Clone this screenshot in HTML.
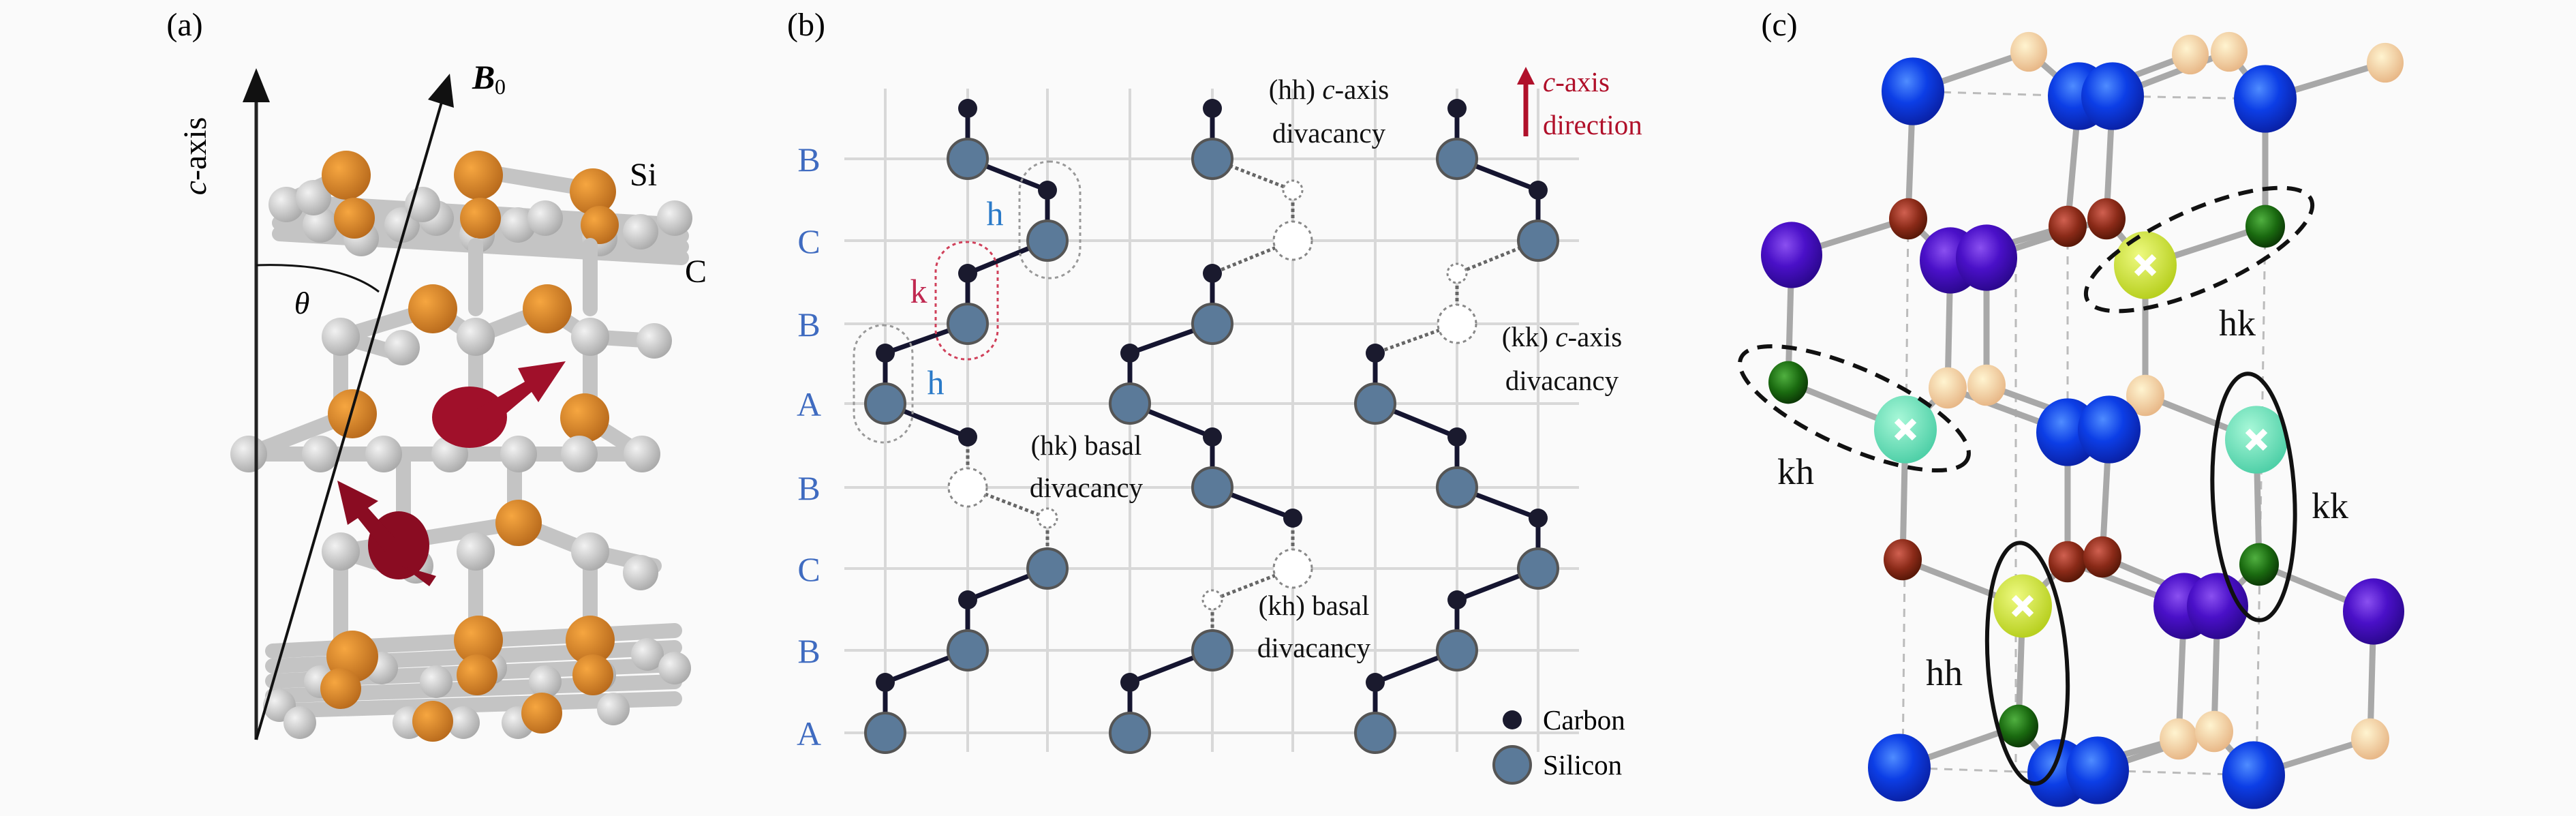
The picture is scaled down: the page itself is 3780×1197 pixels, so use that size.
<!DOCTYPE html>
<html><head><meta charset="utf-8"><style>
html,body{margin:0;padding:0;background:#fafafa;}
svg{display:block;}
text{font-family:"Liberation Serif",serif;}
</style></head><body>
<svg id="s" width="3780" height="1197" viewBox="0 0 3780 1197" xmlns="http://www.w3.org/2000/svg">
<defs>
<radialGradient id="gGray" cx="35%" cy="35%" r="70%"><stop offset="0" stop-color="#f2f2f2"/><stop offset="1" stop-color="#a9a9a9"/></radialGradient>
<radialGradient id="gOr" cx="35%" cy="35%" r="70%"><stop offset="0" stop-color="#f6a640"/><stop offset="1" stop-color="#b86a1c"/></radialGradient>
<radialGradient id="gBlue" cx="40%" cy="35%" r="65%"><stop offset="0" stop-color="#4f8cff"/><stop offset="0.5" stop-color="#0c3ee6"/><stop offset="1" stop-color="#0a22a8"/></radialGradient>
<radialGradient id="gPur" cx="40%" cy="35%" r="65%"><stop offset="0" stop-color="#8a50f0"/><stop offset="0.5" stop-color="#4a10c8"/><stop offset="1" stop-color="#2c0890"/></radialGradient>
<radialGradient id="gBr" cx="40%" cy="35%" r="65%"><stop offset="0" stop-color="#d06050"/><stop offset="0.6" stop-color="#8a2a18"/><stop offset="1" stop-color="#5a1808"/></radialGradient>
<radialGradient id="gPe" cx="40%" cy="35%" r="65%"><stop offset="0" stop-color="#fff4d0"/><stop offset="1" stop-color="#e8b888"/></radialGradient>
<radialGradient id="gGr" cx="40%" cy="35%" r="65%"><stop offset="0" stop-color="#50b040"/><stop offset="0.6" stop-color="#1a6a10"/><stop offset="1" stop-color="#0c3a06"/></radialGradient>
<radialGradient id="gYe" cx="40%" cy="35%" r="65%"><stop offset="0" stop-color="#eefa80"/><stop offset="1" stop-color="#b8d020"/></radialGradient>
<radialGradient id="gCy" cx="40%" cy="35%" r="65%"><stop offset="0" stop-color="#a8f8d8"/><stop offset="1" stop-color="#50d0a8"/></radialGradient>
</defs>

<!-- ========== Panel (a) ========== -->
<text x="271" y="52" font-size="48" text-anchor="middle">(a)</text>
<g id="pa"></g>
<line x1="376" y1="1085" x2="376" y2="150" stroke="#222" stroke-width="5"/>
<path d="M356,150 L376,100 L396,150 z" fill="#111"/>
<line x1="376" y1="1085" x2="648" y2="150" stroke="#111" stroke-width="4"/>
<path d="M628,146 L660,108 L666,158 z" fill="#111"/>
<path d="M376,389 Q500,385 556,428" stroke="#111" stroke-width="3" fill="none"/>
<text x="443" y="460" font-size="46" font-style="italic" text-anchor="middle">θ</text>
<text x="693" y="130" font-size="50" font-weight="bold" font-style="italic">B</text><text x="726" y="138" font-size="32">0</text>
<text transform="translate(302,229) rotate(-90)" font-size="48" text-anchor="middle"><tspan font-style="italic">c</tspan>-axis</text>
<text x="924" y="272" font-size="48">Si</text>
<text x="1005" y="414" font-size="48">C</text>

<!-- ========== Panel (b) ========== -->
<text x="1183" y="52" font-size="48" text-anchor="middle">(b)</text>
<g id="grid" stroke="#d8d8d8" stroke-width="4"></g>
<g id="rowlab" fill="#3f6bc0" font-size="50"></g>
<g id="pb"></g>
<g font-size="41" fill="#111">
<text x="1950" y="145" text-anchor="middle">(hh) <tspan font-style="italic">c</tspan>-axis</text>
<text x="1950" y="209" text-anchor="middle">divacancy</text>
<text x="1594" y="667" text-anchor="middle">(hk) basal</text>
<text x="1594" y="729" text-anchor="middle">divacancy</text>
<text x="2292" y="508" text-anchor="middle">(kk) <tspan font-style="italic">c</tspan>-axis</text>
<text x="2292" y="572" text-anchor="middle">divacancy</text>
<text x="1928" y="902" text-anchor="middle">(kh) basal</text>
<text x="1928" y="964" text-anchor="middle">divacancy</text>
</g>
<line x1="2239" y1="200" x2="2239" y2="120" stroke="#b0102a" stroke-width="7"/>
<path d="M2226,124 L2239,98 L2252,124 z" fill="#b0102a"/>
<text x="2264" y="134" font-size="41" fill="#b0102a"><tspan font-style="italic">c</tspan>-axis</text>
<text x="2264" y="197" font-size="41" fill="#b0102a">direction</text>
<circle cx="2219" cy="1056" r="14" fill="#1a1a2e"/>
<text x="2264" y="1070" font-size="41">Carbon</text>
<circle cx="2219" cy="1122" r="27" fill="#5b7a99" stroke="#555" stroke-width="4"/>
<text x="2264" y="1136" font-size="41">Silicon</text>
<rect x="1496" y="237" width="89" height="171" rx="44" fill="none" stroke="#999" stroke-width="3" stroke-dasharray="5,5"/>
<rect x="1373" y="355" width="91" height="172" rx="44" fill="none" stroke="#d0405a" stroke-width="3" stroke-dasharray="5,5"/>
<rect x="1253" y="477" width="86" height="172" rx="43" fill="none" stroke="#999" stroke-width="3" stroke-dasharray="5,5"/>
<text x="1460" y="330" font-size="50" fill="#2a7ac8" text-anchor="middle">h</text>
<text x="1348" y="444" font-size="50" fill="#c02850" text-anchor="middle">k</text>
<text x="1373" y="578" font-size="50" fill="#2a7ac8" text-anchor="middle">h</text>

<!-- ========== Panel (c) ========== -->
<text x="2611" y="52" font-size="48" text-anchor="middle">(c)</text>
<g id="pc"></g>
<g fill="none" stroke="#111" stroke-width="6">
<ellipse cx="3227" cy="366" rx="180" ry="58" transform="rotate(-24 3227 366)" stroke-dasharray="22,14"/>
<ellipse cx="2721" cy="599" rx="182" ry="58" transform="rotate(24 2721 599)" stroke-dasharray="22,14"/>
<ellipse cx="3307" cy="729" rx="60" ry="181" transform="rotate(-3 3307 729)"/>
<ellipse cx="2975" cy="973" rx="58" ry="177" transform="rotate(-4 2975 973)"/>
</g>
<g font-size="54" fill="#111">
<text x="3256" y="492">hk</text>
<text x="2608" y="710">kh</text>
<text x="3392" y="760">kk</text>
<text x="2826" y="1005">hh</text>
</g>

<script>
var NS="http://www.w3.org/2000/svg";
function el(p,t,a){var e=document.createElementNS(NS,t);for(var k in a)e.setAttribute(k,a[k]);document.getElementById(p).appendChild(e);return e;}
function gb(x,y,r){el('pa','circle',{cx:x,cy:y,r:r||26,fill:'url(#gGray)'});}
function ob(x,y,r){el('pa','circle',{cx:x,cy:y,r:r||30,fill:'url(#gOr)'});}
function bond(x1,y1,x2,y2){el('pa','line',{x1:x1,y1:y1,x2:x2,y2:y2,stroke:'#c4c4c4','stroke-width':22,'stroke-linecap':'round'});}
for(var i=0;i<4;i++){bond(410,295+i*16,1000,300+i*16+30);}
bond(410,300,520,250);bond(700,250,880,280);
[[420,300],[470,330],[530,350],[590,330],[640,320],[700,345],[760,330],[800,320],[880,350],[940,340],[990,320],[460,290],[620,300]].forEach(function(p){gb(p[0],p[1]);});
ob(508,257,36);ob(520,320,30);ob(702,257,36);ob(705,320,30);ob(870,281,34);ob(880,330,28);
[[698,360,698,453],[866,360,866,453],[500,494,500,607],[698,494,698,607],[866,494,866,607],[592,666,592,790],[755,666,755,790],[500,820,500,950],[698,820,698,940],[866,820,866,940]].forEach(function(b){bond(b[0],b[1],b[2],b[3]);});
bond(500,494,635,453);bond(635,453,698,494);bond(698,494,803,453);bond(803,453,866,494);bond(866,494,960,500);bond(500,494,590,520);
gb(500,494,28);gb(698,494,28);gb(866,494,28);gb(590,510);gb(960,500);
ob(635,453,36);ob(803,453,36);
bond(365,666,942,666);bond(365,666,517,607);bond(858,613,942,666);
ob(517,607,36);ob(858,613,36);
[[365,666],[470,666],[563,666],[660,666],[761,666],[850,666],[942,666]].forEach(function(p){gb(p[0],p[1],27);});
bond(500,809,761,767);bond(761,767,866,809);bond(866,809,960,830);bond(500,809,600,840);
ob(761,767,34);gb(500,809,28);gb(610,830);gb(698,809,28);gb(866,809,28);gb(940,840);
for(var j=0;j<5;j++){bond(400,955+j*22,990,925+j*25);}
[[410,1035],[470,1000],[560,980],[640,1000],[720,980],[800,1000],[880,990],[950,960],[990,980],[600,1060],[760,1060],[440,1060],[680,1060],[900,1040]].forEach(function(p){gb(p[0],p[1],24);});
ob(517,963,38);ob(500,1010,30);ob(702,939,36);ob(700,990,30);ob(866,939,36);ob(870,990,30);ob(635,1058,30);ob(795,1046,30);
el('pa','ellipse',{cx:689,cy:612,rx:55,ry:45,fill:'#a0102a'});
el('pa','path',{d:'M700,600 L770,560 L760,540 L830,530 L790,590 L780,575 L715,630 z',fill:'#a0102a'});
el('pa','ellipse',{cx:585,cy:800,rx:45,ry:50,fill:'#8a0c22'});
el('pa','path',{d:'M580,790 L540,745 L555,735 L495,705 L510,770 L525,760 L565,810 z',fill:'#8a0c22'});
el('pa','path',{d:'M590,830 L630,860 L640,845 z',fill:'#8a0c22'});

var gx=[1299,1420,1537,1658,1779,1897,2018,2138,2257];
var gy=[233,353,475,592,715,834,954,1075];
gx.forEach(function(x){el('grid','line',{x1:x,y1:130,x2:x,y2:1103});});
gy.forEach(function(y){el('grid','line',{x1:1239,y1:y,x2:2317,y2:y});});
var labs=['B','C','B','A','B','C','B','A'];
labs.forEach(function(l,i){var t=el('rowlab','text',{x:1187,y:gy[i]+18,'text-anchor':'middle'});t.textContent=l;});
var off=[1,2,1,0,1,2,1,0];
var vac=[{'4s':1,'5c':1},{'1c':1,'1s':1,'5s':1,'6c':1},{'2c':1,'2s':1}];
for(var c=0;c<3;c++){
 var base=c*3, V=vac[c];
 var X=function(r){return gx[base+off[r]];};
 for(var r=0;r<8;r++){
  var d=(V[r+'s']||V[r+'c']);
  el('pb','line',{x1:X(r),y1:gy[r]-74,x2:X(r),y2:gy[r],stroke:d?'#666':'#151530','stroke-width':d?5:7,'stroke-dasharray':d?'5,4':''});
  if(r<7){var d2=(V[r+'s']||V[(r+1)+'c']);
   el('pb','line',{x1:X(r),y1:gy[r],x2:X(r+1),y2:gy[r+1]-74,stroke:d2?'#666':'#151530','stroke-width':d2?5:7,'stroke-dasharray':d2?'5,4':''});}
 }
 for(var r=0;r<8;r++){
  if(V[r+'c']) el('pb','circle',{cx:X(r),cy:gy[r]-74,r:14,fill:'#fff',stroke:'#888','stroke-width':3,'stroke-dasharray':'4,4'});
  else el('pb','circle',{cx:X(r),cy:gy[r]-74,r:14,fill:'#1a1a2e'});
  if(V[r+'s']) el('pb','circle',{cx:X(r),cy:gy[r],r:28,fill:'#fff',stroke:'#888','stroke-width':3,'stroke-dasharray':'5,5'});
  else el('pb','circle',{cx:X(r),cy:gy[r],r:29,fill:'#5b7a99',stroke:'#555','stroke-width':4});
 }
}

function cl(x1,y1,x2,y2,dash){el('pc','line',{x1:x1,y1:y1,x2:x2,y2:y2,stroke:dash?'#bbb':'#a8a8a8','stroke-width':dash?3:9,'stroke-dasharray':dash?'12,10':''});}
[[2800,321,2792,1126],[3034,332,3034,824],[3324,332,3311,1137],[2958,380,2958,1130],[2807,134,3051,141],[3100,141,3324,145],[2787,1126,3021,1134],[3078,1130,3307,1137]].forEach(function(b){cl(b[0],b[1],b[2],b[3],true);});
[[2807,134,2977,76],[3051,141,3214,80],[3100,141,3271,76],[3324,145,3500,92],[2977,76,3051,141],[3271,76,3324,145],
 [2807,134,2800,321],[3051,141,3034,332],[3100,141,3091,321],[3324,145,3324,332],
 [2629,374,2800,321],[2800,321,2862,382],[2862,382,3034,332],[2915,378,3091,321],[3091,321,3148,389],[3148,389,3324,332],
 [2629,374,2624,561],[2862,382,2858,569],[2915,378,2915,565],[3148,389,3148,580],
 [2624,561,2796,630],[2796,630,2858,569],[2858,569,3034,634],[2915,565,3095,630],[3148,580,3095,630],[3148,580,3311,645],
 [2796,630,2792,821],[3034,634,3034,824],[3095,630,3085,817],[3311,645,3315,828],
 [2792,821,2968,889],[2968,889,3034,824],[3034,824,3205,889],[3085,817,3254,889],[3315,828,3254,889],[3315,828,3483,897],
 [2968,889,2962,1065],[3205,889,3197,1084],[3254,889,3249,1073],[3483,897,3478,1084],
 [2787,1126,2962,1065],[2962,1065,3021,1134],[3021,1134,3197,1084],[3078,1130,3249,1073],[3249,1073,3307,1137],[3307,1137,3478,1084]
].forEach(function(b){cl(b[0],b[1],b[2],b[3]);});
function at(x,y,r,f){el('pc','ellipse',{cx:x,cy:y,rx:r,ry:r*1.08,fill:'url(#'+f+')'});}
function xm(x,y){el('pc','path',{d:'M'+(x-13)+','+(y-13)+' L'+(x+13)+','+(y+13)+' M'+(x+13)+','+(y-13)+' L'+(x-13)+','+(y+13),stroke:'#fff','stroke-width':9});}
[[2977,76],[3214,80],[3271,76],[3500,92]].forEach(function(p){at(p[0],p[1],27,'gPe');});
[[2807,134],[3051,141],[3100,141],[3324,145]].forEach(function(p){at(p[0],p[1],46,'gBlue');});
[[2800,321],[3034,332],[3091,321]].forEach(function(p){at(p[0],p[1],28,'gBr');});
[[2629,374],[2862,382],[2915,378]].forEach(function(p){at(p[0],p[1],45,'gPur');});
at(3324,332,29,'gGr');at(3148,389,46,'gYe');xm(3148,389);
[[2858,569],[2915,565],[3148,580]].forEach(function(p){at(p[0],p[1],28,'gPe');});
at(2624,561,29,'gGr');
[[3034,634],[3095,630]].forEach(function(p){at(p[0],p[1],46,'gBlue');});
at(2796,630,46,'gCy');xm(2796,630);at(3311,645,46,'gCy');xm(3311,645);
[[2792,821],[3034,824],[3085,817]].forEach(function(p){at(p[0],p[1],28,'gBr');});
at(3315,828,29,'gGr');
[[3205,889],[3254,889],[3483,897]].forEach(function(p){at(p[0],p[1],45,'gPur');});
at(2968,889,43,'gYe');xm(2968,889);
[[3197,1084],[3249,1073],[3478,1084]].forEach(function(p){at(p[0],p[1],28,'gPe');});
at(2962,1065,29,'gGr');
[[2787,1126],[3021,1134],[3078,1130],[3307,1137]].forEach(function(p){at(p[0],p[1],46,'gBlue');});
</script>
</svg>
</body></html>
